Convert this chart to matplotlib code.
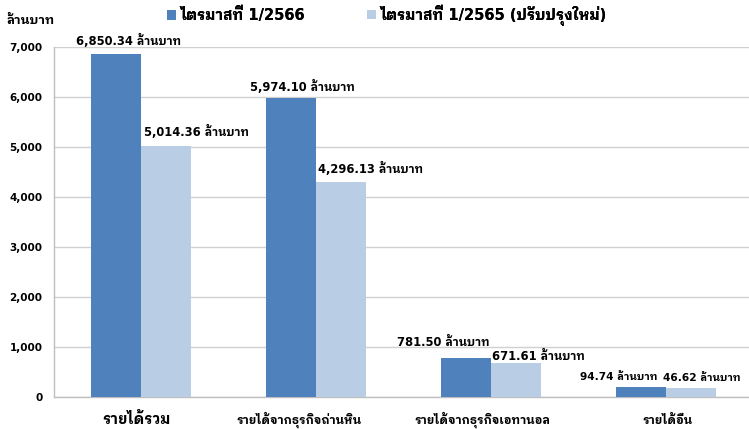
import matplotlib
matplotlib.use("Agg")
import matplotlib.pyplot as plt
import matplotlib.transforms as mtransforms
import numpy as np

FAM = ['DejaVu Sans', 'IBM Plex Sans Thai Looped']
plt.rcParams['font.family'] = FAM

categories = ["รายได้รวม", "รายได้จากธุรกิจถ่านหิน", "รายได้จากธุรกิจเอทานอล", "รายได้อื่น"]
series_names = ["ไตรมาสที่ 1/2566", "ไตรมาสที่ 1/2565 (ปรับปรุงใหม่)"]
# bar heights as drawn in the picture
q1_2566 = [6850.34, 5974.10, 781.50, 200.0]
q1_2565 = [5014.36, 4296.13, 671.61, 185.0]
# values printed in the labels
label_2566 = [6850.34, 5974.10, 781.50, 94.74]
label_2565 = [5014.36, 4296.13, 671.61, 46.62]
y_ticks = [0, 1000, 2000, 3000, 4000, 5000, 6000, 7000]
unit = "ล้านบาท"

colors = ["#4F81BD", "#B9CDE5"]
W, H = 749, 429
fig = plt.figure(figsize=(W/100, H/100), dpi=100)
ax = fig.add_axes([53.5/W, (H-397)/H, 700/W, 350/H])

x = np.arange(len(categories))
bw = 50/175
b1 = ax.bar(x - bw/2, q1_2566, bw, color=colors[0], zorder=3)
b2 = ax.bar(x + bw/2, q1_2565, bw, color=colors[1], zorder=3)

ax.set_xlim(-0.5, len(categories) - 0.5)
ax.set_ylim(0, 7000)
ax.set_yticks(y_ticks)
ax.set_yticklabels([f"{v:,.0f}" for v in y_ticks], fontsize=7.5, fontweight='bold')
ax.yaxis.grid(True, color="#d0d0d0", linewidth=1.0, zorder=0)
ax.tick_params(axis='y', length=0, pad=8)
ax.set_xticks([])
for s in ['top', 'right']:
    ax.spines[s].set_visible(False)
for s in ['left', 'bottom']:
    ax.spines[s].set_color("#bfbfbf")
    ax.spines[s].set_linewidth(1.0)

# category labels (pixel shifts measured on the reference)
cat_dx = [-4.5, -17, -9, 1]
cat_size = [10.5, 8.5, 8.5, 8.5]
for xi, lab, dx, fs in zip(x, categories, cat_dx, cat_size):
    tr = mtransforms.offset_copy(ax.get_xaxis_transform(), fig=fig, x=dx, y=-23, units='dots')
    ax.text(xi, 0, lab, transform=tr, ha='center', va='center', fontsize=fs, fontweight='bold')

# label offsets in pixels (dx, dy) relative to bar top-centre, and font sizes
off1 = [(12, 14), (11, 11), (-23, 15), (-22, 10)]
off2 = [(30, 14), (30, 13), (22, 7), (11, 10)]
size1 = [8.3, 8.3, 8.3, 7.6]
size2 = [8.3, 8.3, 8.3, 7.6]
for bars, labs, offs, sizes in [(b1, label_2566, off1, size1), (b2, label_2565, off2, size2)]:
    for bar, v, (dx, dy), fs in zip(bars, labs, offs, sizes):
        ax.annotate(f"{v:,.2f} {unit}", (bar.get_x() + bar.get_width()/2, bar.get_height()),
                    xytext=(dx, dy), textcoords='offset pixels', ha='center', va='center',
                    fontsize=fs, fontweight='bold', color='black', annotation_clip=False, zorder=5)

fig.text(7/W, 1 - 20/H, unit, fontsize=9, fontweight='bold', va='center', ha='left')

for bars, name, lx in [(b1, series_names[0], 167), (b2, series_names[1], 367)]:
    lg = fig.legend([bars], [name], loc='center left', bbox_to_anchor=(lx/W, 1 - 15/H),
                    frameon=False, prop={'size': 10.5, 'weight': 'bold'}, borderpad=0,
                    borderaxespad=0, handlelength=0.62, handleheight=0.62, handletextpad=0.3)
    fig.add_artist(lg)

fig.savefig("out.png", dpi=100)
